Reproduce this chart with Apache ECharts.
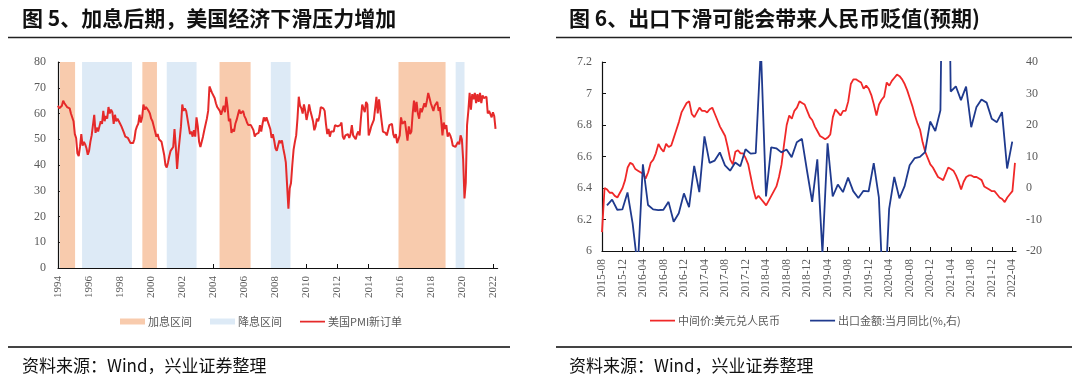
<!DOCTYPE html>
<html><head><meta charset="utf-8">
<script src="https://cdn.jsdelivr.net/npm/echarts@6/dist/echarts.min.js"></script>
<style>html,body{margin:0;padding:0;background:#fff}#c{width:1080px;height:381px}</style>
</head><body><div id="c"></div>
<script>
// ---------- Chart 5 data: US ISM PMI new orders, monthly from 1994-01 ----------
const pmiStartYear = 1994;
const pmiNewOrders = [
  63, 62, 61.5, 63, 65, 64, 63.5, 62.5, 63, 62, 60, 59.5,
  57, 52, 50.5, 44.5, 43.5, 47, 52, 47.5, 49, 48, 46.5, 44,
  45.5, 49, 51.5, 52, 59.5, 52.5, 54.5, 53, 55, 57, 56, 61,
  57, 59, 58, 62.5, 60, 61.5, 60.5, 56, 59.5, 57, 58, 57,
  56, 55, 54.5, 52.5, 51, 51.5, 50.5, 49.5, 48.5, 48, 48.5, 50,
  53.5, 55, 56, 59.5, 56.5, 58.5, 63.5, 61.5, 62.5, 63, 61, 60,
  58, 57, 55, 53, 51, 52, 50, 49.5, 49, 48.5, 44, 40,
  39, 41, 43.5, 45.5, 46, 47, 54, 47, 38.5, 45, 50, 55,
  63.5, 61, 62, 61, 60.5, 55, 52, 53, 51, 53.5, 51, 58.5,
  55, 49, 47, 47.5, 51, 53.5, 53, 58, 61, 70.5, 71, 68,
  68, 66, 64, 62.5, 62, 61, 59.5, 60, 63, 60.5, 66.5, 62.5,
  57, 58, 52.5, 54, 53, 56, 57.5, 58, 61.5, 60, 60.5, 61,
  59, 58, 56.5, 55.5, 55, 55.5, 54.5, 53.5, 51, 52, 51.5, 52.5,
  55.5, 53, 56, 58.5, 57, 58.5, 58, 55.5, 54, 50.5, 52, 49.5,
  46.5, 45.5, 46, 49.5, 48.5, 49.5, 46.5, 44, 41, 32, 23, 31,
  33, 40, 46, 49, 51.5, 58, 66.5, 63, 62, 60, 63.5, 61,
  57.5, 60, 63.5, 61, 59, 57, 53.5, 55, 58, 57, 59, 62.5,
  62.5, 62, 61, 56, 52, 54, 51, 53, 52.5, 53, 55.5, 55,
  55, 55.5, 55.5, 56.5, 51, 50, 51.5, 51, 52, 50.5, 52, 55.5,
  51.5, 51, 50, 52, 53, 51.5, 58, 63.5, 62, 60.5, 64.5, 63.5,
  51.5, 53, 55, 55, 57.5, 62, 66.5, 60, 65.5, 66, 57, 53,
  53, 52.5, 51.5, 53.5, 55.5, 56, 56, 52, 50.5, 52, 48.5, 49,
  51.5, 58.5, 56, 55.5, 57, 56.5, 49.5, 55, 52, 53, 60, 65,
  60.5, 64.5, 60, 58, 62, 60.5, 60, 64, 62.5, 65, 68, 66,
  64, 63.5, 61, 63, 63.5, 64.5, 61, 62.5, 57.5, 51.5, 56.5, 54,
  55.5, 51, 52.5, 51.5, 50, 47.5, 48, 47, 47.5, 49, 48, 51.5,
  50, 42, 27, 33, 55.5, 61, 68, 61.5, 67.5, 65.5, 68, 64,
  67.5, 64.5, 68, 64, 67, 66, 66.5, 66.5, 60, 61, 61.5, 58.5,
  60.5, 59, 54
];
const hikeStart = [1994.12, 1999.43, 2004.4, 2015.92];
const hikeEnd   = [1995.1, 2000.37, 2006.4, 2018.95];
const cutStart  = [1995.55, 2001.0, 2007.7, 2019.6];
const cutEnd    = [1998.76, 2002.92, 2008.97, 2020.17];
const yearTickLabels = [1994,1996,1998,2000,2002,2004,2006,2008,2010,2012,2014,2016,2018,2020,2022];

// ---------- Chart 6 data ----------
const fxStartYear = 2015, fxStartMonth = 8;   // axis month 0 = 2015-08
// USD/CNY central parity, twice a month from 2015-08 start
const usdCnyMid = [
  6.12, 6.40, 6.39, 6.37, 6.37, 6.35, 6.34, 6.37, 6.40, 6.45,
  6.53, 6.56, 6.55, 6.52, 6.51, 6.50, 6.49, 6.46, 6.50, 6.56,
  6.58, 6.62, 6.68, 6.65, 6.63, 6.68, 6.66, 6.67, 6.72, 6.77,
  6.82, 6.88, 6.91, 6.94, 6.95, 6.87, 6.85, 6.88, 6.91, 6.89,
  6.89, 6.88, 6.90, 6.91, 6.87, 6.83, 6.79, 6.76, 6.73, 6.66,
  6.58, 6.55, 6.63, 6.64, 6.62, 6.62, 6.59, 6.55, 6.47, 6.39,
  6.33, 6.35, 6.33, 6.31, 6.29, 6.32, 6.35, 6.38, 6.41, 6.47,
  6.55, 6.68, 6.80, 6.86, 6.84, 6.89, 6.91, 6.95, 6.94, 6.93,
  6.89, 6.85, 6.83, 6.79, 6.76, 6.73, 6.72, 6.71, 6.72, 6.74,
  6.85, 6.90, 6.88, 6.86, 6.89, 6.89, 6.95, 7.06, 7.09, 7.09,
  7.08, 7.07, 7.03, 7.05, 7.03, 6.99, 6.93, 6.86, 6.93, 6.96,
  6.98, 7.07, 7.05, 7.08, 7.10, 7.12, 7.11, 7.09, 7.06, 7.02,
  6.97, 6.92, 6.86, 6.81, 6.77, 6.69, 6.63, 6.59, 6.55, 6.53,
  6.50, 6.47, 6.46, 6.45, 6.49, 6.53, 6.52, 6.51, 6.48, 6.44,
  6.39, 6.44, 6.47, 6.48, 6.48, 6.47, 6.47, 6.46, 6.45, 6.41,
  6.40, 6.39, 6.38, 6.38, 6.36, 6.34, 6.33, 6.31, 6.34, 6.36,
  6.38, 6.56
];
// China exports YoY (%), monthly 2015-08 .. 2022-03
const exportYoY = [
  -5.5, -3.7, -6.9, -6.8, -1.4,
  -11.2, -25.4, 7.5, -5.4, -6.8, -7.0, -6.9, -4.4, -10.7, -8.0, -1.7, -6.1,
  7.0, -1.3, 16.4, 8.0, 8.7, 11.3, 7.2, 5.5, 8.1, 6.9, 12.3, 10.9,
  11.1, 44.5, -2.7, 12.9, 12.6, 11.3, 12.2, 9.8, 14.5, 15.6, 5.4, -4.4,
  9.1, -20.7, 14.2, -2.7, 1.1, -1.3, 3.3, -1.0, -3.2, -0.9, -1.1, 7.9,
  -3.0, -40.6, -6.6, 3.5, -3.3, 0.5, 7.2, 9.5, 9.9, 11.4, 21.1, 18.1,
  24.7, 154.9, 30.6, 32.3, 27.9, 32.2, 19.3, 25.6, 28.1, 27.1, 22.0, 20.9,
  24.1, 6.2, 14.7
];
const monthTickIdx = [0,4,8,12,16,20,24,28,32,36,40,44,48,52,56,60,64,68,72,76,80];

function monthLabel(idx) {
  const t = fxStartYear * 12 + (fxStartMonth - 1) + idx;
  const y = Math.floor(t / 12), m = t % 12 + 1;
  return y + '-' + (m < 10 ? '0' + m : m);
}

const serif = '"Liberation Serif","DejaVu Serif",serif';
const cjk = '"Noto Sans CJK SC","Noto Sans",sans-serif';
const labelColor = '#5a5a5a';
// thin horizontal bar icon centred in a 6px-high legend slot
const lineIcon = 'path://M0 2.2h25v1.8H0z M0 0h0.01v6H0z';

const chart = echarts.init(document.getElementById('c'), null, {renderer: 'canvas'});

const pmiData = pmiNewOrders.map((v, i) => [pmiStartYear + i / 12, v]);
const fxData = usdCnyMid.map((v, i) => [i * 0.5, v]);
const expData = exportYoY.map((v, i) => [i + 0.97, v]);

const option = {
  animation: false,
  backgroundColor: '#fff',
  grid: [
    {left: 58, top: 62, width: 439.6, height: 206},
    {left: 602, top: 62, width: 414, height: 189}
  ],
  xAxis: [
    {
      gridIndex: 0, type: 'value', min: 1994, max: 2022.3, interval: 2,
      axisLine: {show: true, lineStyle: {color: '#111', width: 1.2}},
      axisTick: {show: true, inside: true, length: 4, customValues: yearTickLabels, lineStyle: {color: '#111'}},
      splitLine: {show: false},
      axisLabel: {
        rotate: 90, margin: 8, color: labelColor, fontFamily: serif, fontSize: 11,
        customValues: yearTickLabels,
        formatter: v => String(Math.round(v))
      }
    },
    {
      gridIndex: 1, type: 'value', min: 0, max: 80.7, interval: 4,
      axisLine: {show: true, onZero: false, lineStyle: {color: '#111', width: 1.2}},
      axisTick: {show: true, inside: true, length: 4, customValues: monthTickIdx, lineStyle: {color: '#111'}},
      splitLine: {show: false},
      axisLabel: {
        rotate: 90, margin: 8, color: labelColor, fontFamily: serif, fontSize: 11.5,
        customValues: monthTickIdx,
        formatter: v => monthLabel(Math.round(v))
      }
    }
  ],
  yAxis: [
    {
      gridIndex: 0, type: 'value', min: 0, max: 80, interval: 10,
      axisLine: {show: true, lineStyle: {color: '#111', width: 1.2}},
      axisTick: {show: true, inside: true, length: 4, lineStyle: {color: '#111'}},
      splitLine: {show: false},
      axisLabel: {margin: 12, color: labelColor, fontFamily: serif, fontSize: 12}
    },
    {
      gridIndex: 1, type: 'value', min: 6, max: 7.2, interval: 0.2, position: 'left',
      axisLine: {show: true, onZero: false, lineStyle: {color: '#111', width: 1.2}},
      axisTick: {show: true, inside: true, length: 4, lineStyle: {color: '#111'}},
      splitLine: {show: false},
      axisLabel: {margin: 10, color: labelColor, fontFamily: serif, fontSize: 12,
        formatter: v => String(Math.round(v * 10) / 10)}
    },
    {
      gridIndex: 1, type: 'value', min: -20, max: 40, interval: 10, position: 'right',
      axisLine: {show: false},
      axisTick: {show: false},
      splitLine: {show: false},
      axisLabel: {margin: 10, color: labelColor, fontFamily: serif, fontSize: 12}
    }
  ],
  legend: [
    {
      left: 115, top: 311, itemWidth: 25, itemHeight: 6, itemGap: 18,
      textStyle: {fontSize: 11, color: labelColor, fontFamily: cjk, padding: [0, 0, 0, -2]},
      data: [
        {name: '加息区间', icon: 'rect'},
        {name: '降息区间', icon: 'rect'},
        {name: '美国PMI新订单', icon: lineIcon}
      ]
    },
    {
      left: 645, top: 310, itemWidth: 27, itemHeight: 6, itemGap: 30,
      textStyle: {fontSize: 11, color: labelColor, fontFamily: cjk, padding: [0, 0, 0, -3]},
      data: [
        {name: '中间价:美元兑人民币', icon: lineIcon},
        {name: '出口金额:当月同比(%,右)', icon: lineIcon}
      ]
    }
  ],
  series: [
    {
      name: '加息区间', type: 'line', xAxisIndex: 0, yAxisIndex: 0, data: [],
      color: '#F8CBAD', itemStyle: {color: '#F8CBAD'},
      markArea: {
        silent: true, itemStyle: {color: '#F8CBAD'},
        data: hikeStart.map((s, i) => [{xAxis: s}, {xAxis: hikeEnd[i]}])
      }
    },
    {
      name: '降息区间', type: 'line', xAxisIndex: 0, yAxisIndex: 0, data: [],
      color: '#DDEAF6', itemStyle: {color: '#DDEAF6'},
      markArea: {
        silent: true, itemStyle: {color: '#DDEAF6'},
        data: cutStart.map((s, i) => [{xAxis: s}, {xAxis: cutEnd[i]}])
      }
    },
    {
      name: '美国PMI新订单', type: 'line', xAxisIndex: 0, yAxisIndex: 0,
      data: pmiData, symbol: 'none', z: 5,
      color: '#E52A2A', itemStyle: {color: '#E52A2A'}, lineStyle: {color: '#E52A2A', width: 2}
    },
    {
      name: '中间价:美元兑人民币', type: 'line', xAxisIndex: 1, yAxisIndex: 1,
      data: fxData, symbol: 'none', z: 4, clip: true,
      color: '#F02828', itemStyle: {color: '#F02828'}, lineStyle: {color: '#F02828', width: 1.8}
    },
    {
      name: '出口金额:当月同比(%,右)', type: 'line', xAxisIndex: 1, yAxisIndex: 2,
      data: expData, symbol: 'none', z: 5, clip: true,
      color: '#1F3A8E', itemStyle: {color: '#1F3A8E'}, lineStyle: {color: '#1F3A8E', width: 1.8}
    }
  ],
  graphic: [
    {type: 'text', x: 22, y: 18, style: {text: '图 5、加息后期，美国经济下滑压力增加', font: 'bold 21px ' + cjk, fill: '#111', textVerticalAlign: 'middle'}},
    {type: 'text', x: 569, y: 18, style: {text: '图 6、出口下滑可能会带来人民币贬值(预期)', font: 'bold 21px ' + cjk, fill: '#111', textVerticalAlign: 'middle'}},
    {type: 'line', shape: {x1: 8, y1: 37.5, x2: 510, y2: 37.5}, style: {stroke: '#222', lineWidth: 1.5}},
    {type: 'line', shape: {x1: 556, y1: 37.5, x2: 1072, y2: 37.5}, style: {stroke: '#222', lineWidth: 1.5}},
    {type: 'line', shape: {x1: 8, y1: 347, x2: 510, y2: 347}, style: {stroke: '#444', lineWidth: 2}},
    {type: 'line', shape: {x1: 556, y1: 347, x2: 1072, y2: 347}, style: {stroke: '#444', lineWidth: 2}},
    {type: 'text', x: 22, y: 366, style: {text: '资料来源：Wind，兴业证券整理', font: '17px ' + cjk, fill: '#111', textVerticalAlign: 'middle'}},
    {type: 'text', x: 569, y: 366, style: {text: '资料来源：Wind，兴业证券整理', font: '17px ' + cjk, fill: '#111', textVerticalAlign: 'middle'}}
  ]
};
chart.setOption(option);
</script>
</body></html>
